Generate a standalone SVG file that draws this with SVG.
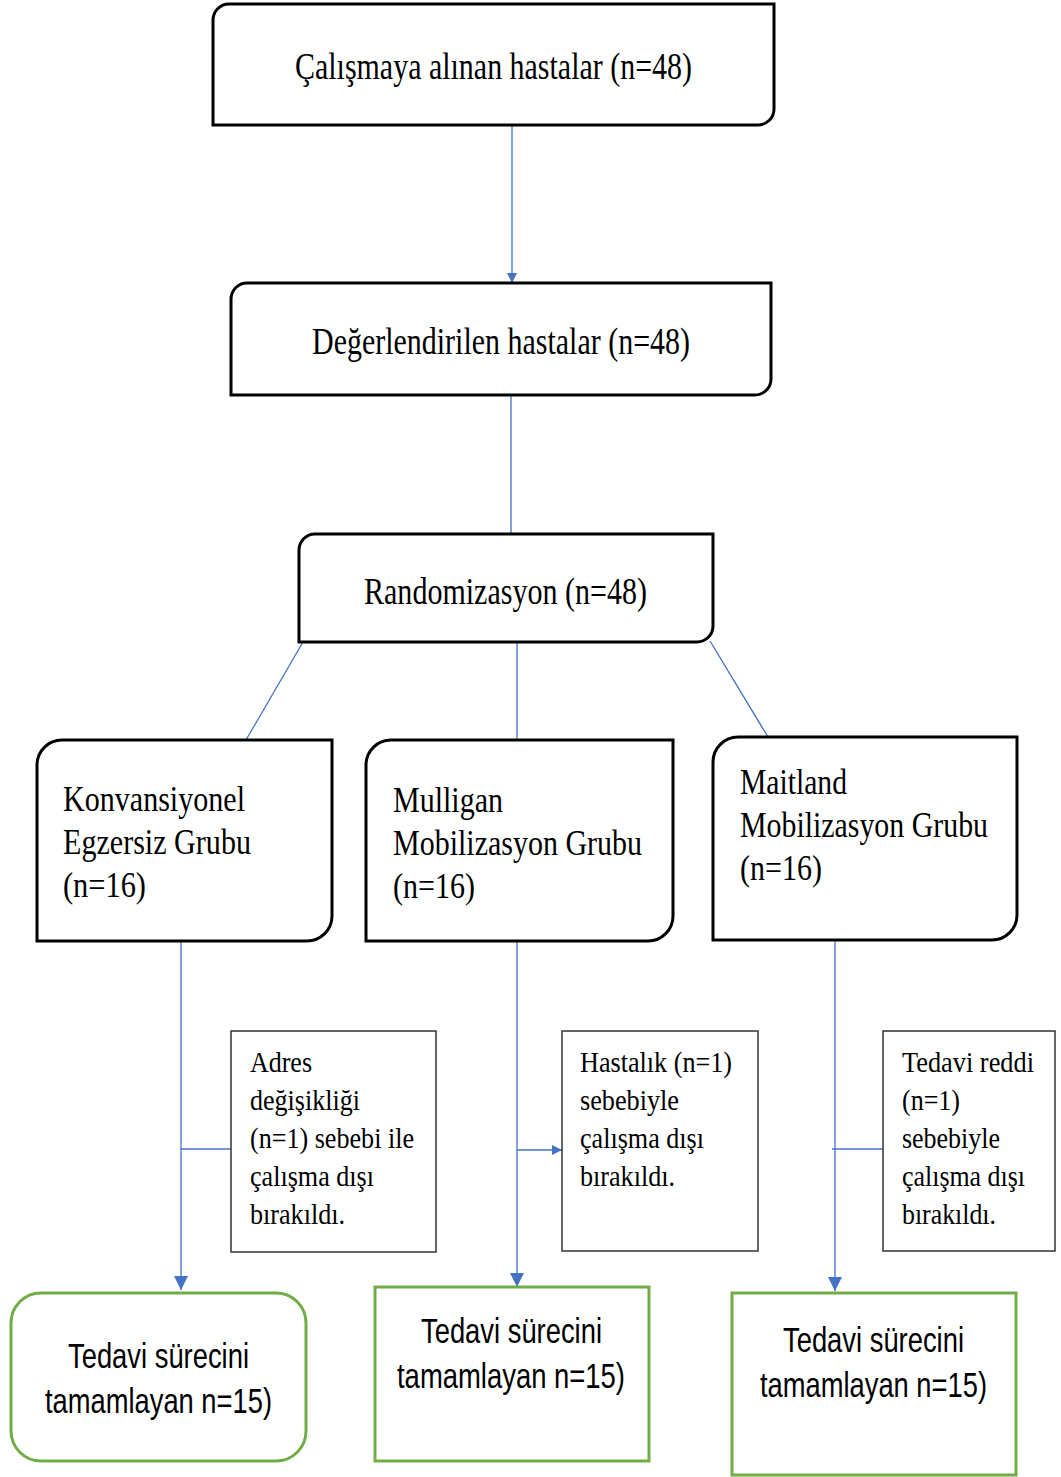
<svg xmlns="http://www.w3.org/2000/svg" width="1061" height="1477" viewBox="0 0 1061 1477">
<style>
.box{fill:#fff;stroke:#000;stroke-width:3}
.exc{fill:#fff;stroke:#333;stroke-width:1.5}
.fin{fill:#fff;stroke:#70AD47;stroke-width:3}
.con{fill:none;stroke:#4472C4;stroke-width:1.3}
.t{font-family:"Liberation Serif","Times New Roman",serif;fill:#000}
.big{font-size:37px}
.mid{font-size:36px}
.sm{font-size:30px}
.sans{font-family:"Liberation Sans",Arial,sans-serif;font-size:35px;fill:#000}
</style>
<defs>
<marker id="arr" viewBox="0 0 10 10" refX="10" refY="5" markerWidth="10" markerHeight="10" markerUnits="userSpaceOnUse" orient="auto">
<path d="M0,0 L10,5 L0,10 Z" fill="#4472C4"/>
</marker>
<marker id="arrb" viewBox="0 0 10 10" refX="10" refY="5" markerWidth="14" markerHeight="14" markerUnits="userSpaceOnUse" orient="auto">
<path d="M0,0 L10,5 L0,10 Z" fill="#4472C4"/>
</marker>
</defs>
<rect width="1061" height="1477" fill="#fff"/>
<g id="connectors">
<line class="con" x1="512" y1="125" x2="512" y2="283" marker-end="url(#arr)"/>
<line class="con" x1="511" y1="395" x2="511" y2="534"/>
<line class="con" x1="303" y1="642" x2="246" y2="740"/>
<line class="con" x1="517" y1="642" x2="517" y2="740"/>
<line class="con" x1="710" y1="641" x2="768" y2="737"/>
<line class="con" x1="181" y1="941" x2="181" y2="1290" marker-end="url(#arrb)"/>
<line class="con" x1="181" y1="1149" x2="231" y2="1149"/>
<line class="con" x1="517" y1="941" x2="517" y2="1287" marker-end="url(#arrb)"/>
<line class="con" x1="517" y1="1150" x2="562" y2="1150" marker-end="url(#arr)"/>
<line class="con" x1="835" y1="940" x2="835" y2="1291" marker-end="url(#arrb)"/>
<line class="con" x1="832" y1="1149" x2="883" y2="1149"/>
</g>
<g id="n1">
<path class="box" d="M213,20 A16,16 0 0 1 229,4 H774 V109 A16,16 0 0 1 758,125 H213 Z"/>
<text class="t big" x="493.5" y="79" text-anchor="middle" textLength="397" lengthAdjust="spacingAndGlyphs">Çalışmaya alınan hastalar (n=48)</text>
</g>
<g id="n2">
<path class="box" d="M231,299 A16,16 0 0 1 247,283 H771 V379 A16,16 0 0 1 755,395 H231 Z"/>
<text class="t big" x="501" y="354" text-anchor="middle" textLength="378" lengthAdjust="spacingAndGlyphs">Değerlendirilen hastalar (n=48)</text>
</g>
<g id="n3">
<path class="box" d="M299,550 A16,16 0 0 1 315,534 H713 V626 A16,16 0 0 1 697,642 H299 Z"/>
<text class="t big" x="505.5" y="604" text-anchor="middle" textLength="283" lengthAdjust="spacingAndGlyphs">Randomizasyon (n=48)</text>
</g>
<g id="n4">
<path class="box" d="M37,765 A25,25 0 0 1 62,740 H332 V916 A25,25 0 0 1 307,941 H37 Z"/>
<text class="t mid" x="63" y="811" textLength="182" lengthAdjust="spacingAndGlyphs">Konvansiyonel</text>
<text class="t mid" x="63" y="854" textLength="188" lengthAdjust="spacingAndGlyphs">Egzersiz Grubu</text>
<text class="t mid" x="63" y="897" textLength="83" lengthAdjust="spacingAndGlyphs">(n=16)</text>
</g>
<g id="n5">
<path class="box" d="M366,765 A25,25 0 0 1 391,740 H673 V916 A25,25 0 0 1 648,941 H366 Z"/>
<text class="t mid" x="393" y="812" textLength="110" lengthAdjust="spacingAndGlyphs">Mulligan</text>
<text class="t mid" x="393" y="855" textLength="249" lengthAdjust="spacingAndGlyphs">Mobilizasyon Grubu</text>
<text class="t mid" x="393" y="898" textLength="82" lengthAdjust="spacingAndGlyphs">(n=16)</text>
</g>
<g id="n6">
<path class="box" d="M713,762 A25,25 0 0 1 738,737 H1017 V915 A25,25 0 0 1 992,940 H713 Z"/>
<text class="t mid" x="740" y="794" textLength="107" lengthAdjust="spacingAndGlyphs">Maitland</text>
<text class="t mid" x="740" y="837" textLength="248" lengthAdjust="spacingAndGlyphs">Mobilizasyon Grubu</text>
<text class="t mid" x="740" y="880" textLength="82" lengthAdjust="spacingAndGlyphs">(n=16)</text>
</g>
<g id="n7">
<rect class="exc" x="231" y="1031" width="205" height="221"/>
<text class="t sm" x="250" y="1072" textLength="62" lengthAdjust="spacingAndGlyphs">Adres</text>
<text class="t sm" x="250" y="1110" textLength="110" lengthAdjust="spacingAndGlyphs">değişikliği</text>
<text class="t sm" x="250" y="1148" textLength="164" lengthAdjust="spacingAndGlyphs">(n=1) sebebi ile</text>
<text class="t sm" x="250" y="1186" textLength="124" lengthAdjust="spacingAndGlyphs">çalışma dışı</text>
<text class="t sm" x="250" y="1224" textLength="95" lengthAdjust="spacingAndGlyphs">bırakıldı.</text>
</g>
<g id="n8">
<rect class="exc" x="562" y="1031" width="196" height="220"/>
<text class="t sm" x="580" y="1072" textLength="152" lengthAdjust="spacingAndGlyphs">Hastalık (n=1)</text>
<text class="t sm" x="580" y="1110" textLength="99" lengthAdjust="spacingAndGlyphs">sebebiyle</text>
<text class="t sm" x="580" y="1148" textLength="124" lengthAdjust="spacingAndGlyphs">çalışma dışı</text>
<text class="t sm" x="580" y="1186" textLength="95" lengthAdjust="spacingAndGlyphs">bırakıldı.</text>
</g>
<g id="n9">
<rect class="exc" x="883" y="1031" width="172" height="220"/>
<text class="t sm" x="902" y="1072" textLength="132" lengthAdjust="spacingAndGlyphs">Tedavi reddi</text>
<text class="t sm" x="902" y="1110" textLength="58" lengthAdjust="spacingAndGlyphs">(n=1)</text>
<text class="t sm" x="902" y="1148" textLength="98" lengthAdjust="spacingAndGlyphs">sebebiyle</text>
<text class="t sm" x="902" y="1186" textLength="123" lengthAdjust="spacingAndGlyphs">çalışma dışı</text>
<text class="t sm" x="902" y="1224" textLength="94" lengthAdjust="spacingAndGlyphs">bırakıldı.</text>
</g>
<g id="n10">
<rect class="fin" x="11" y="1293" width="295" height="168" rx="30" ry="30"/>
<text class="sans" x="158.5" y="1368" text-anchor="middle" textLength="181" lengthAdjust="spacingAndGlyphs">Tedavi sürecini</text>
<text class="sans" x="158.5" y="1413" text-anchor="middle" textLength="227" lengthAdjust="spacingAndGlyphs">tamamlayan n=15)</text>
</g>
<g id="n11">
<rect class="fin" x="375" y="1287" width="274" height="174"/>
<text class="sans" x="511.5" y="1343" text-anchor="middle" textLength="181" lengthAdjust="spacingAndGlyphs">Tedavi sürecini</text>
<text class="sans" x="511" y="1388" text-anchor="middle" textLength="228" lengthAdjust="spacingAndGlyphs">tamamlayan n=15)</text>
</g>
<g id="n12">
<rect class="fin" x="732" y="1293" width="284" height="182"/>
<text class="sans" x="873.5" y="1352" text-anchor="middle" textLength="181" lengthAdjust="spacingAndGlyphs">Tedavi sürecini</text>
<text class="sans" x="873.5" y="1397" text-anchor="middle" textLength="227" lengthAdjust="spacingAndGlyphs">tamamlayan n=15)</text>
</g>
</svg>
